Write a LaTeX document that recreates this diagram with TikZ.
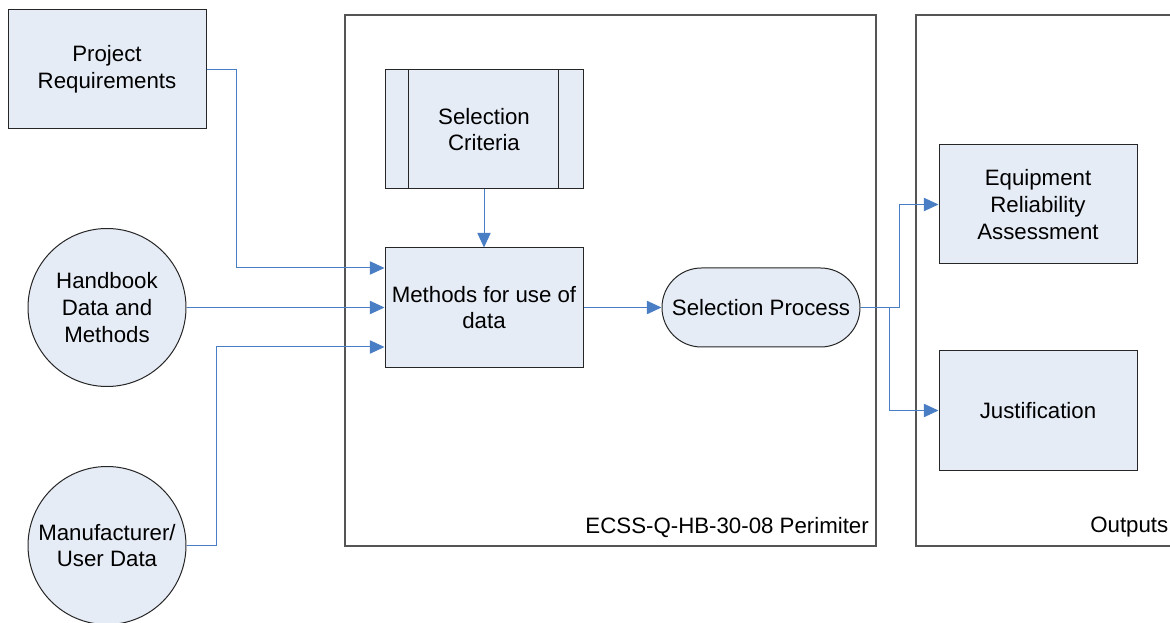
\documentclass[tikz,border=0pt]{standalone}
\usepackage{fontspec}
\setmainfont{Liberation Sans}
\usetikzlibrary{arrows.meta,calc}
\definecolor{boxfill}{HTML}{E6ECF6}
\definecolor{linkblue}{HTML}{4A7EC4}
\definecolor{frame}{HTML}{555555}
\tikzset{
  lbl/.style={font=\fontsize{16.7pt}{20pt}\selectfont, align=center},
  procbox/.style={lbl, draw=black!85, fill=boxfill, line width=0.75pt, minimum width=148.5pt, minimum height=89.25pt, inner sep=0pt},
  roundnode/.style={lbl, circle, draw=black!85, fill=boxfill, line width=0.75pt, minimum size=118.5pt, inner sep=0pt},
  stadium/.style={lbl, draw=black!85, fill=boxfill, line width=0.75pt, minimum width=148.5pt, minimum height=59.25pt, rounded corners=29.6pt, inner sep=0pt},
  framebox/.style={draw=frame, line width=0.8pt, minimum width=398.25pt, minimum height=398.25pt, inner sep=0pt},
  link/.style={draw=linkblue, line width=0.75pt, -{Triangle[length=11pt,width=10pt]}},
}
\begin{document}
\begin{tikzpicture}[x=0.75pt,y=-0.75pt]
\useasboundingbox (0,0) rectangle (1170,623);
% frames
\node[framebox] (perim) at (610.5,280.5) {};
\node[lbl, anchor=south east] (perimlbl) at ($(perim.south east)+(-3,-4)$) {ECSS-Q-HB-30-08 Perimiter};
\coordinate (otl) at (916,15);
\coordinate (obl) at (916,546);
\coordinate (otr) at (1172,15);
\coordinate (obr) at (1172,546);
\draw[frame, line width=0.8pt] (otr) -- (otl) -- (obl) -- (obr);
\node[lbl, anchor=south east] (outlbl) at (1173,542) {Outputs};
% nodes
\node[procbox] (pr) at (107,69.5) {Project\\Requirements};
\node[roundnode] (hb) at (107,307.5) {Handbook\\Data and\\Methods};
\node[roundnode] (md) at (107,545.5) {Manufacturer/\\User Data};
\node[procbox] (sc) at (484,129.5) {Selection\\Criteria};
\draw[black!85, line width=0.75pt] ($(sc.north west)+(24,0)$) -- ($(sc.south west)+(24,0)$);
\draw[black!85, line width=0.75pt] ($(sc.north east)+(-25,0)$) -- ($(sc.south east)+(-25,0)$);
\node[procbox] (me) at (484,307.5) {Methods for use of\\data};
\node[stadium] (sp) at (761,307.5) {Selection Process};
\node[procbox] (era) at (1038,204.5) {Equipment\\Reliability\\Assessment};
\node[procbox] (ju) at (1038,410.5) {Justification};
% connectors
\draw[link] (pr.east) -- ++(30,0) |- ($(me.west)+(0,-39.5)$);
\draw[link] (hb.east) -- (me.west);
\draw[link] (md.east) -- ++(30,0) |- ($(me.west)+(0,39.5)$);
\draw[link] (sc.south) -- (me.north);
\draw[link] (me.east) -- (sp.west);
\draw[link] (sp.east) -- ++(39,0) |- (era.west);
\draw[link] (sp.east) -- ++(29,0) |- (ju.west);
\end{tikzpicture}
\end{document}
